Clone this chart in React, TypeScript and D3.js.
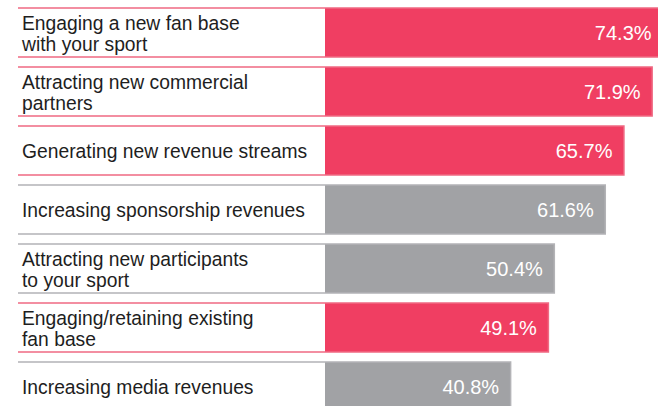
import React from "react";
import * as d3 from "d3";

const categories = [
  "Engaging a new fan base\nwith your sport",
  "Attracting new commercial\npartners",
  "Generating new revenue streams",
  "Increasing sponsorship revenues",
  "Attracting new participants\nto your sport",
  "Engaging/retaining existing\nfan base",
  "Increasing media revenues",
];
const values = [74.3, 71.9, 65.7, 61.6, 50.4, 49.1, 40.8];
const highlighted = [true, true, true, false, false, true, false];

const W = 658;
const H = 406;
const PINK = "#F03E62";
const PINK_LINE = "#EF6A83";
const GRAY = "#A1A2A5";
const GRAY_LINE = "#B3B3B6";
const FONT = "'Liberation Sans', Arial, Helvetica, sans-serif";

export default function App() {
  const x = d3.scaleLinear().domain([0, 100]).range([325, 780]);
  const y = d3
    .scaleBand<number>()
    .domain(d3.range(categories.length))
    .range([8, 411])
    .paddingInner(10 / 59)
    .paddingOuter(0);
  const labelX = 18;
  const bw = y.bandwidth();

  return (
    <div style={{ position: "absolute", left: 0, top: 0, width: W, height: H, overflow: "hidden" }}>
      <svg width={W} height={H} style={{ display: "block" }} fontFamily={FONT}>
        <rect x={0} y={0} width={W} height={H} fill="#fff" />
        {categories.map((c, i) => {
          const top = y(i)!;
          const bottom = top + bw;
          const cy = top + bw / 2;
          const x0 = x(0);
          const x1 = x(values[i]);
          const fill = highlighted[i] ? PINK : GRAY;
          const line = highlighted[i] ? PINK_LINE : GRAY_LINE;
          const lines = c.split("\n");
          const path = d3.path();
          path.moveTo(labelX, top);
          path.lineTo(x1, top);
          path.lineTo(x1, bottom);
          path.lineTo(labelX, bottom);
          return (
            <g key={i}>
              <rect x={x0} y={top} width={x1 - x0} height={bw} fill={fill} />
              <path d={path.toString()} fill="none" stroke={line} strokeWidth={1.5} />
              <text x={22} fontSize={19.3} fill="#1e1e1e">
                {lines.length === 1 ? (
                  <tspan x={22} y={cy + 7.8}>{lines[0]}</tspan>
                ) : (
                  lines.map((l, j) => (
                    <tspan key={j} x={22} y={cy - 2.6 + j * 20.8}>
                      {l}
                    </tspan>
                  ))
                )}
              </text>
              <text
                x={x1 - 11.5}
                y={cy + 7.8}
                textAnchor="end"
                fontSize={20}
                fill="#fff"
              >
                {values[i].toFixed(1)}%
              </text>
            </g>
          );
        })}
      </svg>
    </div>
  );
}
